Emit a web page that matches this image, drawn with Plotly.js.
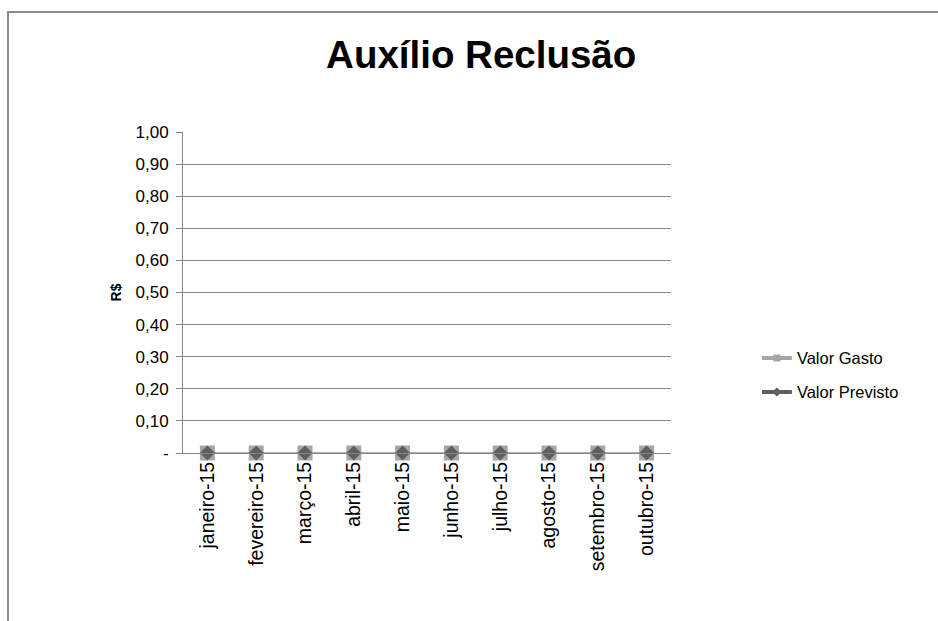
<!DOCTYPE html>
<html>
<head>
<meta charset="utf-8">
<script src="https://cdn.plot.ly/plotly-3.0.1.min.js"></script>
<style>
html,body{margin:0;padding:0;background:#fff;}
#wrap{position:relative;width:938px;height:621px;}
#chart{width:938px;height:621px;}
#frame{position:absolute;left:7px;top:11px;width:940px;height:620px;border-top:2px solid #8c8c8c;border-left:2px solid #8c8c8c;pointer-events:none;}
</style>
</head>
<body>
<div id="wrap"><div id="chart"></div><div id="frame"></div></div>
<script>
const months = ["janeiro-15","fevereiro-15","março-15","abril-15","maio-15","junho-15","julho-15","agosto-15","setembro-15","outubro-15"];
const valorGasto = [0,0,0,0,0,0,0,0,0,0];
const valorPrevisto = [0,0,0,0,0,0,0,0,0,0];
const yTickVals = [0,0.1,0.2,0.3,0.4,0.5,0.6,0.7,0.8,0.9,1.0];
const yTickText = ["-","0,10","0,20","0,30","0,40","0,50","0,60","0,70","0,80","0,90","1,00"];

const cGasto = "#a6a6a6";
const cPrev = "#5f5f5f";

const traces = [
  {x: months, y: valorGasto, type:"scatter", mode:"lines+markers", name:"Valor Gasto", showlegend:false,
   line:{color:cGasto, width:1}, marker:{symbol:"square", size:15, color:cGasto}, cliponaxis:false},
  {x: months, y: valorPrevisto, type:"scatter", mode:"lines+markers", name:"Valor Previsto", showlegend:false,
   line:{color:"#868686", width:1}, marker:{symbol:"diamond", size:11.5, color:cPrev}, cliponaxis:false},
  {x:[null], y:[null], type:"scatter", mode:"lines+markers", name:"Valor Gasto", legend:"legend",
   line:{color:cGasto, width:4}, marker:{symbol:"square", size:7, color:cGasto}},
  {x:[null], y:[null], type:"scatter", mode:"lines+markers", name:"Valor Previsto", legend:"legend2",
   line:{color:cPrev, width:4}, marker:{symbol:"diamond", size:7, color:cPrev}}
];

const font = {family:"Liberation Sans, Arial, sans-serif", color:"#000"};
const layout = {
  width:938, height:621,
  margin:{l:183, r:267, t:132, b:168},
  paper_bgcolor:"#fff", plot_bgcolor:"#fff",
  font: Object.assign({size:18}, font),
  title:{text:"<b>Auxílio Reclusão</b>", font:Object.assign({size:38.5}, font), x:0.513, xanchor:"center", y:0.912, yanchor:"middle"},
  xaxis:{type:"category", range:[-0.5,9.5], showgrid:false, showline:true, linecolor:"#868686", linewidth:1,
    ticks:"", tickangle:-90, tickfont:Object.assign({size:19.5}, font), zeroline:false, fixedrange:true},
  yaxis:{range:[0,1], tickvals:yTickVals, ticktext:yTickText, showgrid:true, gridcolor:"#868686", gridwidth:1,
    showline:true, linecolor:"#868686", linewidth:1, ticks:"outside", ticklen:6, tickcolor:"#868686",
    zeroline:false, tickfont:Object.assign({size:17}, font), ticklabelstandoff:4,
    title:{text:"<b>R$</b>", font:Object.assign({size:14}, font), standoff:10}},
  legend:{x:1.176, y:0.295, xanchor:"left", yanchor:"middle", bgcolor:"rgba(0,0,0,0)", font:Object.assign({size:16.5}, font), itemwidth:30},
  legend2:{x:1.176, y:0.189, xanchor:"left", yanchor:"middle", bgcolor:"rgba(0,0,0,0)", font:Object.assign({size:16.5}, font), itemwidth:30},
  showlegend:true
};
Plotly.newPlot("chart", traces, layout, {displayModeBar:false, staticPlot:true});
</script>
</body>
</html>
